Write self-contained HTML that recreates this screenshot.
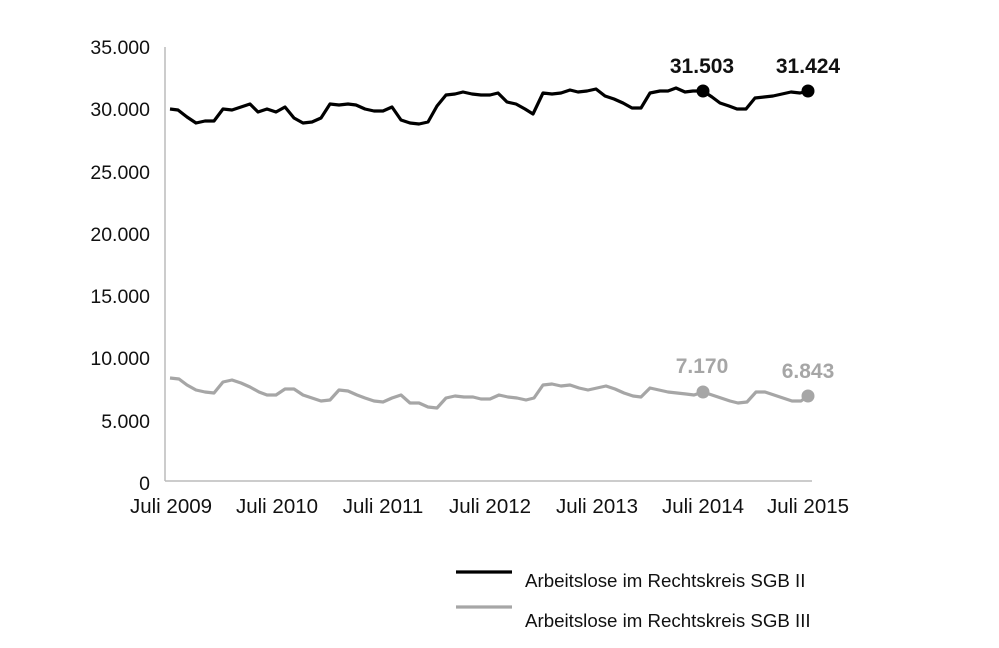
<!DOCTYPE html>
<html><head><meta charset="utf-8"><style>
html,body{margin:0;padding:0;background:#fff;}
svg{display:block;font-family:"Liberation Sans",Arial,sans-serif;}
</style></head><body>
<svg width="999" height="648" viewBox="0 0 999 648">
<line x1="165" y1="47" x2="165" y2="481" stroke="#bbb" stroke-width="1.5"/>
<line x1="165" y1="481" x2="812" y2="481" stroke="#bbb" stroke-width="1.5"/>
<g font-size="19.5" fill="#111" text-anchor="end">
<text x="150" y="54">35.000</text>
<text x="150" y="116">30.000</text>
<text x="150" y="179">25.000</text>
<text x="150" y="241">20.000</text>
<text x="150" y="303">15.000</text>
<text x="150" y="365">10.000</text>
<text x="150" y="428">5.000</text>
<text x="150" y="490">0</text>
</g>
<g font-size="20.5" fill="#111" text-anchor="middle">
<text x="171" y="513">Juli 2009</text>
<text x="277" y="513">Juli 2010</text>
<text x="383" y="513">Juli 2011</text>
<text x="490" y="513">Juli 2012</text>
<text x="597" y="513">Juli 2013</text>
<text x="703" y="513">Juli 2014</text>
<text x="808" y="513">Juli 2015</text>
</g>
<polyline fill="none" stroke="#000" stroke-width="3.2" stroke-linejoin="round" points="170,109 178,110 187,117 196,123 205,121 214,121 223,109 232,110 241,107 250,104 258,112 267,109 276,112 285,107 294,118 303,123 312,122 321,118 330,104 339,105 348,104 356,105 365,109 374,111 383,111 392,107 401,120 410,123 419,124 428,122 437,106 446,95 455,94 463,92 472,94 481,95 490,95 498,93 507,102 516,104 525,109 533,114 543,93 552,94 561,93 570,90 578,92 587,91 596,89 605,96 614,99 623,103 632,108 641,108 650,93 660,91 668,91 676,88 685,92 693,91 703,91 712,97 720,103 729,106 737,109 746,109 755,98 764,97 773,96 782,94 791,92 800,93 808,91"/>
<polyline fill="none" stroke="#a6a6a6" stroke-width="3.2" stroke-linejoin="round" points="170,378 179,379 187,385 196,390 205,392 214,393 223,382 232,380 241,383 250,387 259,392 267,395 276,395 285,389 294,389 303,395 312,398 321,401 330,400 339,390 348,391 357,395 365,398 374,401 383,402 392,398 401,395 410,403 419,403 428,407 437,408 446,398 455,396 464,397 473,397 481,399 490,399 499,395 508,397 517,398 526,400 534,398 543,385 552,384 561,386 570,385 579,388 588,390 597,388 606,386 615,389 624,393 633,396 641,397 650,388 659,390 668,392 677,393 686,394 694,395 703,392 712,395 721,398 730,401 738,403 747,402 756,392 765,392 774,395 783,398 792,401 801,401 808,396"/>
<circle cx="703" cy="91" r="6.5" fill="#000"/>
<circle cx="808" cy="91" r="6.5" fill="#000"/>
<circle cx="703" cy="392" r="6.5" fill="#a6a6a6"/>
<circle cx="808" cy="396" r="6.5" fill="#a6a6a6"/>
<g font-size="21" font-weight="bold" text-anchor="middle">
<text x="702" y="73" fill="#111">31.503</text>
<text x="808" y="73" fill="#111">31.424</text>
<text x="702" y="373" fill="#a6a6a6">7.170</text>
<text x="808" y="378" fill="#a6a6a6">6.843</text>
</g>
<line x1="456" y1="572" x2="512" y2="572" stroke="#000" stroke-width="3.2"/>
<line x1="456" y1="607" x2="512" y2="607" stroke="#a6a6a6" stroke-width="3.2"/>
<g font-size="18.7" fill="#111">
<text x="525" y="587">Arbeitslose im Rechtskreis SGB II</text>
<text x="525" y="627">Arbeitslose im Rechtskreis SGB III</text>
</g>
</svg>
</body></html>
